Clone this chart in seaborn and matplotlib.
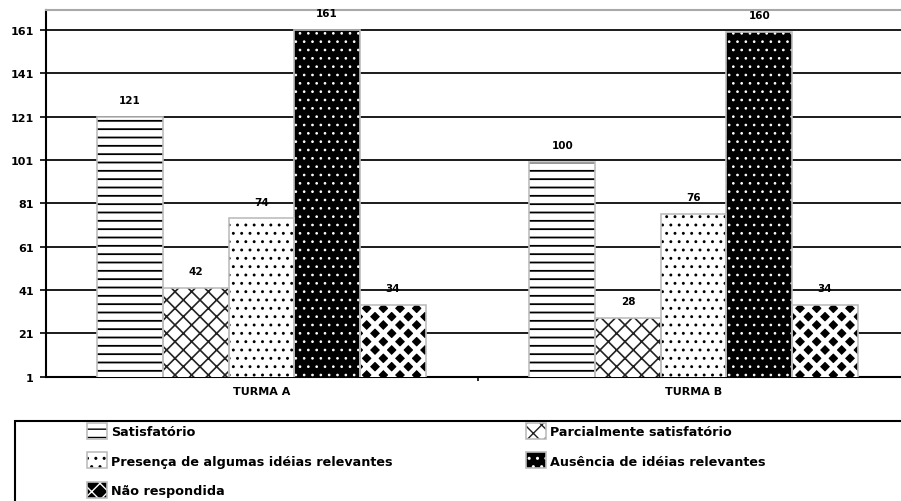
import matplotlib
matplotlib.use('Agg')
import matplotlib.pyplot as plt
import seaborn as sns
import pandas as pd
from matplotlib.patches import Rectangle, Patch
from matplotlib.legend_handler import HandlerTuple

# ---------------- data ----------------
turmas = ['TURMA A', 'TURMA B']
categorias = ['Satisfatório',
              'Parcialmente satisfatório',
              'Presença de algumas idéias relevantes',
              'Ausência de idéias relevantes',
              'Não respondida']
valores_a = [121, 42, 74, 161, 34]
valores_b = [100, 28, 76, 160, 34]
y_ticks = [1, 21, 41, 61, 81, 101, 121, 141, 161]
y_tick_labels = ['1', '21', '41', '61', '81', '101', '121', '141', '161']

# ---------------- style ----------------
sns.set_theme(style='white')
plt.rcParams['font.family'] = ['DejaVu Sans']
plt.rcParams['font.weight'] = 'bold'
plt.rcParams['text.color'] = 'black'

# face colour, hatch colour, hatch, hatch linewidth
estilos = [
    ('white', 'black', '--', 1.3),
    ('white', '#222222', 'xx', 1.2),
    ('white', 'black', '..', 0.9),
    ('black', 'white', '..', 0.7),
    ('black', 'white', 'xx', 3.4),
]
OUTLINE = '#bdbdbd'


def set_hlw(p, lw):
    if hasattr(p, 'set_hatch_linewidth'):
        p.set_hatch_linewidth(lw)
    else:
        p._hatch_linewidth = lw


rows = []
for t, vals in zip(turmas, [valores_a, valores_b]):
    for c, v in zip(categorias, vals):
        rows.append({'turma': t, 'categoria': c, 'valor': v})
df = pd.DataFrame(rows)

fig = plt.figure(figsize=(9.01, 5.02), dpi=100)
ax = fig.add_axes([0.0507, 0.2476, 0.9493, 0.7305])

sns.barplot(data=df, x='turma', y='valor', hue='categoria',
            hue_order=categorias, order=turmas, palette=['white'] * 5,
            width=0.76, gap=0, legend=False, ax=ax, zorder=3)

for cont, (face, hc, h, hlw) in zip(ax.containers, estilos):
    for p in cont:
        p.set_facecolor(face)
        p.set_edgecolor(hc)
        p.set_linewidth(0)
        p.set_hatch(h)
        set_hlw(p, hlw)
        ax.add_patch(Rectangle(p.get_xy(), p.get_width(), p.get_height(),
                               facecolor='none', edgecolor=OUTLINE, lw=1.2,
                               zorder=4))
    ax.bar_label(cont, fmt='%d', padding=8.5, fontsize=7.5, fontweight='bold',
                 color='black', zorder=5)

ax.set_ylim(1, 170.2)
ax.set_xlim(-0.4995, 1.48)
ax.set_yticks(y_ticks)
ax.set_yticklabels(y_tick_labels)
ax.set_xlabel('')
ax.set_ylabel('')
ax.tick_params(axis='y', which='major', left=True, length=4.5, width=1.2,
               color='black', pad=4, labelsize=8, labelcolor='black')
ax.tick_params(axis='x', which='major', bottom=False, length=0, pad=7,
               labelsize=8, labelcolor='black')
ax.set_xticks([0.5], minor=True)
ax.tick_params(axis='x', which='minor', bottom=True, length=3, width=1.2,
               color='black')
for lbl in ax.get_xticklabels() + ax.get_yticklabels():
    lbl.set_fontweight('bold')

ax.yaxis.grid(True, color='#1a1a1a', lw=1.4, zorder=0)
ax.xaxis.grid(False)
ax.set_axisbelow(True)
for side in ['left', 'bottom']:
    ax.spines[side].set_color('black')
    ax.spines[side].set_linewidth(1.5)
ax.spines['top'].set_color('#a8a8a8')
ax.spines['top'].set_linewidth(1.5)
ax.spines['right'].set_visible(False)

# ---------------- legend ----------------
fig.add_artist(Rectangle((15 / 901, -0.2), 1.2, 0.2 + (1 - 422 / 502),
                         transform=fig.transFigure, facecolor='none',
                         edgecolor='black', lw=1.5, clip_on=False))


def handle(i):
    face, hc, h, hlw = estilos[i]
    a = Patch(facecolor=face, edgecolor=hc, lw=0, hatch=h)
    set_hlw(a, hlw)
    b = Patch(facecolor='none', edgecolor=OUTLINE, lw=1.2)
    return (a, b)


leg_kw = dict(frameon=False, loc='upper left', borderpad=0, borderaxespad=0,
              handlelength=1.55, handleheight=1.55, handletextpad=0.35,
              labelspacing=1.05, prop={'size': 9.2, 'weight': 'bold'},
              labelcolor='black',
              handler_map={tuple: HandlerTuple(ndivide=1, pad=0)})
col1 = [0, 2, 4]
col2 = [1, 3]
fig.legend([handle(i) for i in col1], [categorias[i] for i in col1],
           bbox_to_anchor=(87 / 901, 1 - 424 / 502), **leg_kw)
fig.legend([handle(i) for i in col2], [categorias[i] for i in col2],
           bbox_to_anchor=(526 / 901, 1 - 424 / 502), **leg_kw)

fig.savefig('out.png', dpi=100)
